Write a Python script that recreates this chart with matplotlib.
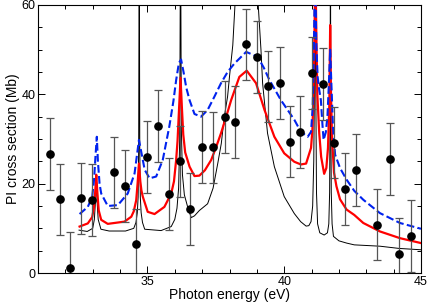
import matplotlib
matplotlib.use("Agg")
import matplotlib.pyplot as plt
from matplotlib.ticker import MultipleLocator

plt.rcParams['font.family'] = ['Liberation Sans', 'DejaVu Sans']

# Experimental points
exp_x = [31.43, 31.81, 32.18, 32.57, 32.96, 33.79, 34.19, 34.60, 34.98, 35.40, 35.78,
         36.18, 36.56, 37.00, 37.39, 37.83, 38.19, 38.62, 38.99, 39.42, 39.83, 40.21,
         40.59, 41.03, 41.42, 41.82, 42.22, 42.62, 43.39, 43.85, 44.19, 44.62]
exp_y = [26.6, 16.5, 1.2, 16.7, 16.3, 22.5, 19.5, 6.4, 26.0, 32.9, 17.7,
         25.0, 14.3, 28.2, 28.1, 34.9, 33.8, 51.2, 48.4, 41.8, 42.5, 29.4,
         31.6, 44.8, 42.3, 29.2, 18.8, 23.1, 10.8, 25.5, 4.3, 8.3]
exp_err = [8.0, 8.0, 8.0, 8.0, 8.0, 8.0, 8.0, 8.0, 8.0, 8.0, 8.0,
           8.0, 8.0, 8.0, 8.0, 8.0, 8.0, 8.0, 8.0, 8.0, 8.0, 8.0,
           8.0, 8.0, 8.0, 8.0, 8.0, 8.0, 8.0, 8.0, 8.0, 8.0]

# Theory (unconvolved), thin black
raw_x = [32.50, 32.80, 33.00, 33.06, 33.10, 33.13, 33.16, 33.20, 33.30, 33.60, 34.20,
         34.50, 34.58, 34.63, 34.66, 34.68, 34.70, 34.72, 34.74, 34.77, 34.82, 34.90,
         35.50, 35.87, 36.00, 36.08, 36.14, 36.18, 36.21, 36.24, 36.28, 36.35, 36.47,
         36.60, 36.72, 36.90, 37.20, 37.40, 37.57, 37.70, 37.81, 37.93, 38.00, 38.12,
         38.20, 38.30, 38.60, 38.90, 39.05, 39.15, 39.21, 39.39, 39.64, 40.00, 40.37,
         40.60, 40.80, 40.90, 40.98, 41.04, 41.08, 41.11, 41.13, 41.15, 41.18, 41.22,
         41.30, 41.46, 41.58, 41.63, 41.66, 41.68, 41.69, 41.70, 41.72, 41.75, 41.80,
         42.00, 42.28, 42.56, 43.50, 44.20, 45.00]
raw_y = [9.6, 9.3, 10.0, 12.0, 16.0, 22.0, 16.0, 12.0, 9.8, 9.4, 9.4,
         10.0, 11.3, 13.5, 17.0, 28.0, 80.0, 28.0, 17.0, 13.5, 11.3, 9.8,
         9.5, 10.4, 12.0, 14.5, 19.0, 30.0, 80.0, 32.0, 22.0, 17.5, 14.8,
         12.4, 12.8, 14.0, 15.5, 19.0, 24.5, 29.0, 35.0, 39.5, 44.0, 51.0,
         60.0, 72.0, 90.0, 72.0, 60.0, 50.0, 42.5, 31.3, 23.8, 17.1, 13.3,
         11.5, 10.5, 10.6, 11.5, 15.0, 25.0, 45.0, 90.0, 45.0, 18.0, 11.0,
         9.0, 8.5, 9.0, 11.0, 18.0, 40.0, 90.0, 40.0, 18.0, 11.0, 8.2,
         7.2, 6.7, 6.3, 6.0, 5.5, 5.2]

# Convolved theory, red solid
red_x = [32.52, 32.82, 32.98, 33.04, 33.09, 33.13, 33.17, 33.22, 33.31, 33.55, 34.16,
         34.41, 34.50, 34.59, 34.64, 34.69, 34.74, 34.78, 34.83, 35.01, 35.26, 35.62,
         35.87, 35.97, 36.05, 36.10, 36.15, 36.21, 36.26, 36.31, 36.38, 36.54, 36.72,
         36.90, 37.10, 37.33, 37.50, 37.69, 37.88, 38.06, 38.36, 38.63, 38.97, 39.28,
         39.64, 40.00, 40.37, 40.61, 40.80, 40.98, 41.03, 41.07, 41.11, 41.14, 41.17,
         41.21, 41.28, 41.35, 41.46, 41.54, 41.60, 41.65, 41.68, 41.71, 41.75, 41.82,
         41.91, 42.04, 42.28, 42.56, 42.89, 43.50, 44.23, 45.00]
red_y = [10.4, 11.1, 12.5, 14.5, 18.0, 22.0, 18.0, 14.0, 11.9, 11.0, 11.5,
         12.6, 13.8, 16.3, 20.0, 24.5, 20.5, 18.5, 17.1, 13.7, 13.2, 14.8,
         17.8, 20.5, 25.3, 29.5, 36.0, 43.7, 37.0, 31.0, 27.0, 23.8, 21.7,
         21.8, 23.0, 25.3, 28.0, 31.3, 35.0, 38.7, 43.9, 45.3, 42.5, 36.5,
         30.5, 26.8, 24.9, 24.3, 24.5, 28.0, 32.0, 40.0, 55.0, 70.0, 55.0,
         40.0, 31.3, 26.0, 22.2, 23.5, 28.0, 38.0, 55.5, 40.0, 30.0, 22.5,
         19.4, 16.5, 14.2, 13.0, 11.2, 9.3, 7.8, 6.7]

# Convolved theory (wider), blue dashed
blue_x = [32.52, 32.82, 32.98, 33.05, 33.10, 33.15, 33.19, 33.25, 33.31, 33.55, 33.92,
          34.28, 34.53, 34.69, 34.90, 35.08, 35.32, 35.56, 35.80, 35.95, 36.05, 36.15,
          36.23, 36.32, 36.42, 36.54, 36.72, 36.96, 37.20, 37.45, 37.69, 37.93, 38.18,
          38.61, 39.03, 39.25, 39.46, 39.88, 40.37, 40.61, 40.86, 40.98, 41.04, 41.08,
          41.13, 41.17, 41.22, 41.28, 41.34, 41.40, 41.44, 41.52, 41.58, 41.63, 41.68,
          41.72, 41.78, 41.86, 42.04, 42.28, 42.56, 42.89, 43.50, 44.23, 45.00]
blue_y = [13.2, 14.8, 17.0, 21.0, 26.0, 30.5, 25.0, 20.0, 17.8, 15.0, 15.2,
          17.8, 22.3, 29.8, 23.1, 21.2, 21.6, 25.3, 32.8, 38.5, 43.2, 47.0,
          47.8, 45.0, 41.5, 38.7, 35.6, 35.0, 36.5, 39.5, 42.5, 45.0, 46.9,
          49.5, 48.4, 46.0, 43.2, 38.7, 34.3, 31.6, 30.5, 31.6, 37.0, 48.0,
          70.0, 52.0, 44.0, 41.0, 38.7, 33.0, 29.8, 31.5, 35.0, 42.0, 50.0,
          43.0, 33.0, 26.5, 23.5, 20.9, 18.4, 16.4, 13.4, 11.2, 9.9]

xticks = [35, 40, 45]
yticks = [0, 20, 40, 60]

fig = plt.figure(figsize=(4.29, 3.07), dpi=100)
ax = fig.add_axes([38/429, 1-273/307, (421-38)/429, (273-5)/307])

ax.plot(raw_x, raw_y, color='black', lw=0.7, zorder=2)
ax.plot(red_x, red_y, color='#ff0000', lw=1.6, zorder=3)
ax.plot(blue_x, blue_y, color='#0022ee', lw=1.5, ls='--', zorder=4)
ax.errorbar(exp_x, exp_y, yerr=exp_err, fmt='o', color='black', ms=5.2,
            ecolor='#555555', elinewidth=0.9, capsize=3, capthick=0.9, zorder=5)

ax.set_xlim(31, 45)
ax.set_ylim(0, 60)
ax.set_xticks(xticks)
ax.set_yticks(yticks)
ax.xaxis.set_minor_locator(MultipleLocator(1))
ax.yaxis.set_minor_locator(MultipleLocator(5))
ax.tick_params(which='both', direction='in', top=True, right=True, labelsize=9, pad=2)
ax.tick_params(which='major', length=5, width=0.7)
ax.tick_params(which='minor', length=3, width=0.7)
for s in ax.spines.values():
    s.set_linewidth(0.8)

ax.set_xlabel('Photon energy (eV)', fontsize=10, labelpad=0)
ax.set_ylabel('PI cross section (Mb)', fontsize=10, labelpad=1)

fig.savefig('out.png', dpi=100)
